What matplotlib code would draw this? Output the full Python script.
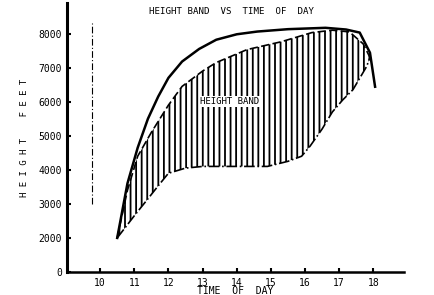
import numpy as np
import matplotlib
matplotlib.use('Agg')
import matplotlib.pyplot as plt

# upper envelope (solid)
upper_x = [10.5, 10.8, 11.1, 11.4, 11.7, 12.0, 12.4, 12.9, 13.4, 14.0, 14.6, 15.5, 16.6, 17.2, 17.6, 17.9, 18.05]
upper_y = [2000, 3600, 4650, 5500, 6150, 6700, 7180, 7550, 7820, 7980, 8060, 8130, 8170, 8120, 8030, 7440, 6440]

# height band, top edge (dashed)
band_top_x = [10.5, 10.8, 11.1, 11.5, 12.0, 12.4, 13.0, 13.4, 14.3, 15.3, 16.2, 16.8, 17.3, 17.7, 17.9]
band_top_y = [2000, 3400, 4400, 5100, 5900, 6450, 6900, 7150, 7530, 7760, 8030, 8100, 8050, 7700, 7300]

# height band, bottom edge
band_bot_x = [10.5, 11.0, 11.4, 11.7, 12.0, 12.5, 13.0, 14.0, 14.9, 15.5, 15.9, 16.15, 16.5, 16.8, 17.1, 17.4, 17.8, 17.9]
band_bot_y = [2000, 2650, 3150, 3530, 3900, 4050, 4100, 4100, 4100, 4250, 4400, 4700, 5200, 5700, 6050, 6350, 7030, 7300]

x_ticks = [10, 11, 12, 13, 14, 15, 16, 17, 18]
y_ticks = [1000, 2000, 3000, 4000, 5000, 6000, 7000, 8000]
y_labels = ['0', '2000', '3000', '4000', '5000', '6000', '7000', '8000']

plt.rcParams['font.family'] = 'DejaVu Sans Mono'
plt.rcParams['hatch.linewidth'] = 1.3
plt.rcParams['hatch.color'] = 'black'

fig = plt.figure(figsize=(4.35, 2.95), dpi=100)
ax = fig.add_axes([0.154, 0.078, 0.775, 0.912])

# hatched band
poly_x = np.concatenate([band_top_x, band_bot_x[::-1]])
poly_y = np.concatenate([band_top_y, band_bot_y[::-1]])
ax.fill(poly_x, poly_y, facecolor='none', edgecolor='black', linewidth=0, hatch='|||')
ax.plot(band_top_x, band_top_y, color='black', lw=1.2, ls=(0, (5, 2)))
ax.plot(band_bot_x, band_bot_y, color='black', lw=1.2, ls='-.')

ax.plot(upper_x, upper_y, color='black', lw=1.8)

# reference line
ax.plot([9.75, 9.75], [3000, 8300], color='black', lw=0.8, ls=(0, (6, 2, 1, 2)))

ax.text(13.8, 6000, 'HEIGHT BAND', fontsize=6.5, ha='center', va='center',
        bbox=dict(facecolor='white', edgecolor='none', pad=0.5))
ax.text(13.85, 8650, 'HEIGHT BAND  VS  TIME  OF  DAY', fontsize=6.6, ha='center', va='center')

ax.set_xlim(9.03, 18.9)
ax.set_ylim(1000, 8900)
ax.set_xticks(x_ticks)
ax.set_yticks(y_ticks)
ax.set_yticklabels(y_labels)
ax.tick_params(direction='in', length=3, width=1.5, labelsize=7)
ax.tick_params(axis='x', pad=4)

for s in ['top', 'right']:
    ax.spines[s].set_visible(False)
ax.spines['left'].set_linewidth(2.2)
ax.spines['bottom'].set_linewidth(1.8)

ax.set_xlabel('TIME  OF  DAY', fontsize=7, labelpad=-1)
ax.set_ylabel('H E I G H T    F E E T', fontsize=6.5, labelpad=7)

fig.savefig('out.png', dpi=100)
